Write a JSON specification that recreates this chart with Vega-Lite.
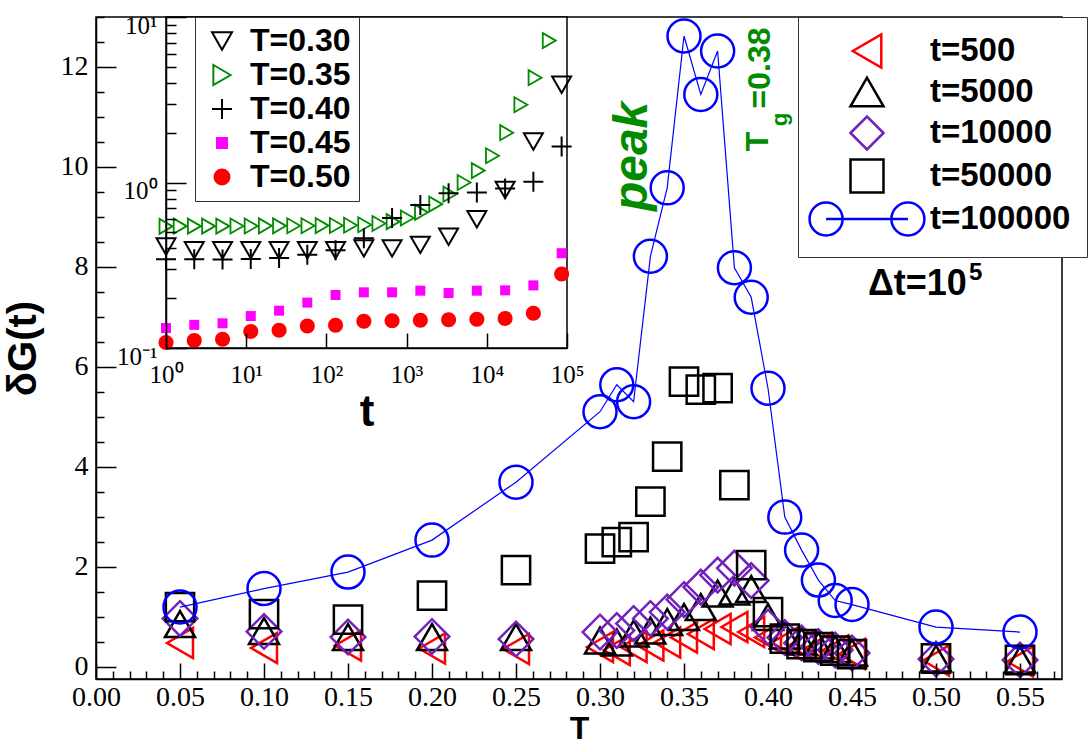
{
  "$schema": "https://vega.github.io/schema/vega-lite/v6.json",
  "width": 966,
  "height": 662,
  "autosize": "none",
  "padding": {"left": 96, "top": 17, "right": 27, "bottom": 73},
  "background": "white",
  "config": {
    "view": {"stroke": "black", "strokeWidth": 1.5},
    "text": {"font": "Liberation Sans"}
  },
  "datasets": {
    "main": [
      {"T": 0.05, "dG": 0.47, "t": "t=500"}, {"T": 0.10, "dG": 0.37, "t": "t=500"}, {"T": 0.15, "dG": 0.42, "t": "t=500"},
      {"T": 0.20, "dG": 0.36, "t": "t=500"}, {"T": 0.25, "dG": 0.35, "t": "t=500"}, {"T": 0.30, "dG": 0.39, "t": "t=500"},
      {"T": 0.31, "dG": 0.33, "t": "t=500"}, {"T": 0.32, "dG": 0.39, "t": "t=500"}, {"T": 0.33, "dG": 0.42, "t": "t=500"},
      {"T": 0.34, "dG": 0.48, "t": "t=500"}, {"T": 0.35, "dG": 0.58, "t": "t=500"}, {"T": 0.36, "dG": 0.65, "t": "t=500"},
      {"T": 0.37, "dG": 0.75, "t": "t=500"}, {"T": 0.38, "dG": 0.79, "t": "t=500"}, {"T": 0.39, "dG": 0.69, "t": "t=500"},
      {"T": 0.40, "dG": 0.58, "t": "t=500"}, {"T": 0.41, "dG": 0.48, "t": "t=500"}, {"T": 0.42, "dG": 0.42, "t": "t=500"},
      {"T": 0.43, "dG": 0.37, "t": "t=500"}, {"T": 0.44, "dG": 0.32, "t": "t=500"}, {"T": 0.45, "dG": 0.25, "t": "t=500"},
      {"T": 0.50, "dG": 0.12, "t": "t=500"}, {"T": 0.55, "dG": 0.10, "t": "t=500"},

      {"T": 0.05, "dG": 0.85, "t": "t=5000"}, {"T": 0.10, "dG": 0.71, "t": "t=5000"}, {"T": 0.15, "dG": 0.59, "t": "t=5000"},
      {"T": 0.20, "dG": 0.59, "t": "t=5000"}, {"T": 0.25, "dG": 0.59, "t": "t=5000"}, {"T": 0.30, "dG": 0.52, "t": "t=5000"},
      {"T": 0.31, "dG": 0.48, "t": "t=5000"}, {"T": 0.32, "dG": 0.66, "t": "t=5000"}, {"T": 0.33, "dG": 0.72, "t": "t=5000"},
      {"T": 0.34, "dG": 0.89, "t": "t=5000"}, {"T": 0.35, "dG": 0.99, "t": "t=5000"}, {"T": 0.36, "dG": 1.19, "t": "t=5000"},
      {"T": 0.37, "dG": 1.46, "t": "t=5000"}, {"T": 0.38, "dG": 1.50, "t": "t=5000"}, {"T": 0.39, "dG": 1.55, "t": "t=5000"},
      {"T": 0.40, "dG": 0.99, "t": "t=5000"}, {"T": 0.41, "dG": 0.62, "t": "t=5000"}, {"T": 0.42, "dG": 0.50, "t": "t=5000"},
      {"T": 0.43, "dG": 0.42, "t": "t=5000"}, {"T": 0.44, "dG": 0.35, "t": "t=5000"}, {"T": 0.45, "dG": 0.28, "t": "t=5000"},
      {"T": 0.50, "dG": 0.16, "t": "t=5000"}, {"T": 0.55, "dG": 0.14, "t": "t=5000"},

      {"T": 0.05, "dG": 0.96, "t": "t=10000"}, {"T": 0.10, "dG": 0.70, "t": "t=10000"}, {"T": 0.15, "dG": 0.59, "t": "t=10000"},
      {"T": 0.20, "dG": 0.60, "t": "t=10000"}, {"T": 0.25, "dG": 0.55, "t": "t=10000"}, {"T": 0.30, "dG": 0.69, "t": "t=10000"},
      {"T": 0.31, "dG": 0.72, "t": "t=10000"}, {"T": 0.32, "dG": 0.86, "t": "t=10000"}, {"T": 0.33, "dG": 0.96, "t": "t=10000"},
      {"T": 0.34, "dG": 1.09, "t": "t=10000"}, {"T": 0.35, "dG": 1.34, "t": "t=10000"}, {"T": 0.36, "dG": 1.59, "t": "t=10000"},
      {"T": 0.37, "dG": 1.83, "t": "t=10000"}, {"T": 0.38, "dG": 1.97, "t": "t=10000"}, {"T": 0.39, "dG": 1.72, "t": "t=10000"},
      {"T": 0.40, "dG": 0.79, "t": "t=10000"}, {"T": 0.41, "dG": 0.58, "t": "t=10000"}, {"T": 0.42, "dG": 0.47, "t": "t=10000"},
      {"T": 0.43, "dG": 0.40, "t": "t=10000"}, {"T": 0.44, "dG": 0.33, "t": "t=10000"}, {"T": 0.45, "dG": 0.27, "t": "t=10000"},
      {"T": 0.50, "dG": 0.15, "t": "t=10000"}, {"T": 0.55, "dG": 0.13, "t": "t=10000"},

      {"T": 0.05, "dG": 1.19, "t": "t=50000"}, {"T": 0.10, "dG": 1.05, "t": "t=50000"}, {"T": 0.15, "dG": 0.94, "t": "t=50000"},
      {"T": 0.20, "dG": 1.42, "t": "t=50000"}, {"T": 0.25, "dG": 1.93, "t": "t=50000"}, {"T": 0.30, "dG": 2.36, "t": "t=50000"},
      {"T": 0.31, "dG": 2.49, "t": "t=50000"}, {"T": 0.32, "dG": 2.59, "t": "t=50000"}, {"T": 0.33, "dG": 3.30, "t": "t=50000"},
      {"T": 0.34, "dG": 4.20, "t": "t=50000"}, {"T": 0.35, "dG": 5.70, "t": "t=50000"}, {"T": 0.36, "dG": 5.54, "t": "t=50000"},
      {"T": 0.37, "dG": 5.57, "t": "t=50000"}, {"T": 0.38, "dG": 3.63, "t": "t=50000"}, {"T": 0.39, "dG": 2.03, "t": "t=50000"},
      {"T": 0.40, "dG": 1.09, "t": "t=50000"}, {"T": 0.41, "dG": 0.56, "t": "t=50000"}, {"T": 0.42, "dG": 0.45, "t": "t=50000"},
      {"T": 0.43, "dG": 0.39, "t": "t=50000"}, {"T": 0.44, "dG": 0.32, "t": "t=50000"}, {"T": 0.45, "dG": 0.25, "t": "t=50000"},
      {"T": 0.50, "dG": 0.16, "t": "t=50000"}, {"T": 0.55, "dG": 0.13, "t": "t=50000"},

      {"T": 0.05, "dG": 1.19, "t": "t=100000"}, {"T": 0.10, "dG": 1.56, "t": "t=100000"}, {"T": 0.15, "dG": 1.89, "t": "t=100000"},
      {"T": 0.20, "dG": 2.53, "t": "t=100000"}, {"T": 0.25, "dG": 3.69, "t": "t=100000"}, {"T": 0.30, "dG": 5.10, "t": "t=100000"},
      {"T": 0.31, "dG": 5.64, "t": "t=100000"}, {"T": 0.32, "dG": 5.30, "t": "t=100000"}, {"T": 0.33, "dG": 8.21, "t": "t=100000"},
      {"T": 0.34, "dG": 9.58, "t": "t=100000"}, {"T": 0.35, "dG": 12.62, "t": "t=100000"}, {"T": 0.36, "dG": 11.45, "t": "t=100000"},
      {"T": 0.37, "dG": 12.32, "t": "t=100000"}, {"T": 0.38, "dG": 7.98, "t": "t=100000"}, {"T": 0.39, "dG": 7.39, "t": "t=100000"},
      {"T": 0.40, "dG": 5.57, "t": "t=100000"}, {"T": 0.41, "dG": 2.99, "t": "t=100000"}, {"T": 0.42, "dG": 2.33, "t": "t=100000"},
      {"T": 0.43, "dG": 1.73, "t": "t=100000"}, {"T": 0.44, "dG": 1.32, "t": "t=100000"}, {"T": 0.45, "dG": 1.24, "t": "t=100000"},
      {"T": 0.50, "dG": 0.79, "t": "t=100000"}, {"T": 0.55, "dG": 0.69, "t": "t=100000"}
    ],
    "inset": [
      {"time": 1, "G": 0.41, "temp": "T=0.30"}, {"time": 2.25, "G": 0.39, "temp": "T=0.30"}, {"time": 5.07, "G": 0.39, "temp": "T=0.30"},
      {"time": 11.4, "G": 0.39, "temp": "T=0.30"}, {"time": 25.7, "G": 0.39, "temp": "T=0.30"}, {"time": 57.8, "G": 0.39, "temp": "T=0.30"},
      {"time": 130, "G": 0.39, "temp": "T=0.30"}, {"time": 293, "G": 0.40, "temp": "T=0.30"}, {"time": 659, "G": 0.40, "temp": "T=0.30"},
      {"time": 1483, "G": 0.42, "temp": "T=0.30"}, {"time": 3339, "G": 0.47, "temp": "T=0.30"}, {"time": 7516, "G": 0.60, "temp": "T=0.30"},
      {"time": 16918, "G": 0.90, "temp": "T=0.30"}, {"time": 38081, "G": 1.77, "temp": "T=0.30"}, {"time": 85720, "G": 3.9, "temp": "T=0.30"},

      {"time": 1, "G": 0.543, "temp": "T=0.35"}, {"time": 1.503, "G": 0.545, "temp": "T=0.35"}, {"time": 2.259, "G": 0.545, "temp": "T=0.35"},
      {"time": 3.396, "G": 0.545, "temp": "T=0.35"}, {"time": 5.105, "G": 0.545, "temp": "T=0.35"}, {"time": 7.674, "G": 0.546, "temp": "T=0.35"},
      {"time": 11.53, "G": 0.546, "temp": "T=0.35"}, {"time": 17.34, "G": 0.547, "temp": "T=0.35"}, {"time": 26.06, "G": 0.547, "temp": "T=0.35"},
      {"time": 39.17, "G": 0.548, "temp": "T=0.35"}, {"time": 58.88, "G": 0.548, "temp": "T=0.35"}, {"time": 88.51, "G": 0.549, "temp": "T=0.35"},
      {"time": 133, "G": 0.55, "temp": "T=0.35"}, {"time": 199.9, "G": 0.552, "temp": "T=0.35"}, {"time": 300.6, "G": 0.556, "temp": "T=0.35"},
      {"time": 451.9, "G": 0.565, "temp": "T=0.35"}, {"time": 679.2, "G": 0.58, "temp": "T=0.35"}, {"time": 1021, "G": 0.61, "temp": "T=0.35"},
      {"time": 1535, "G": 0.66, "temp": "T=0.35"}, {"time": 2307, "G": 0.74, "temp": "T=0.35"}, {"time": 3467, "G": 0.85, "temp": "T=0.35"},
      {"time": 5212, "G": 1.0, "temp": "T=0.35"}, {"time": 7834, "G": 1.18, "temp": "T=0.35"}, {"time": 11776, "G": 1.45, "temp": "T=0.35"},
      {"time": 17701, "G": 2.0, "temp": "T=0.35"}, {"time": 26607, "G": 2.95, "temp": "T=0.35"}, {"time": 39994, "G": 4.3, "temp": "T=0.35"},
      {"time": 60117, "G": 7.2, "temp": "T=0.35"},

      {"time": 1, "G": 0.344, "temp": "T=0.40"}, {"time": 2.25, "G": 0.344, "temp": "T=0.40"}, {"time": 5.07, "G": 0.342, "temp": "T=0.40"},
      {"time": 11.4, "G": 0.345, "temp": "T=0.40"}, {"time": 25.7, "G": 0.35, "temp": "T=0.40"}, {"time": 57.8, "G": 0.366, "temp": "T=0.40"},
      {"time": 130, "G": 0.39, "temp": "T=0.40"}, {"time": 293, "G": 0.46, "temp": "T=0.40"}, {"time": 659, "G": 0.61, "temp": "T=0.40"},
      {"time": 1483, "G": 0.73, "temp": "T=0.40"}, {"time": 3339, "G": 0.86, "temp": "T=0.40"}, {"time": 7516, "G": 0.87, "temp": "T=0.40"},
      {"time": 16918, "G": 0.92, "temp": "T=0.40"}, {"time": 38081, "G": 1.01, "temp": "T=0.40"}, {"time": 85720, "G": 1.65, "temp": "T=0.40"},

      {"time": 1, "G": 0.132, "temp": "T=0.45"}, {"time": 2.25, "G": 0.138, "temp": "T=0.45"}, {"time": 5.07, "G": 0.141, "temp": "T=0.45"},
      {"time": 11.4, "G": 0.156, "temp": "T=0.45"}, {"time": 25.7, "G": 0.168, "temp": "T=0.45"}, {"time": 57.8, "G": 0.188, "temp": "T=0.45"},
      {"time": 130, "G": 0.209, "temp": "T=0.45"}, {"time": 293, "G": 0.217, "temp": "T=0.45"}, {"time": 659, "G": 0.217, "temp": "T=0.45"},
      {"time": 1483, "G": 0.222, "temp": "T=0.45"}, {"time": 3339, "G": 0.215, "temp": "T=0.45"}, {"time": 7516, "G": 0.222, "temp": "T=0.45"},
      {"time": 16918, "G": 0.223, "temp": "T=0.45"}, {"time": 38081, "G": 0.239, "temp": "T=0.45"}, {"time": 85720, "G": 0.374, "temp": "T=0.45"},

      {"time": 1, "G": 0.108, "temp": "T=0.50"}, {"time": 2.25, "G": 0.111, "temp": "T=0.50"}, {"time": 5.07, "G": 0.113, "temp": "T=0.50"},
      {"time": 11.4, "G": 0.126, "temp": "T=0.50"}, {"time": 25.7, "G": 0.128, "temp": "T=0.50"}, {"time": 57.8, "G": 0.136, "temp": "T=0.50"},
      {"time": 130, "G": 0.137, "temp": "T=0.50"}, {"time": 293, "G": 0.145, "temp": "T=0.50"}, {"time": 659, "G": 0.146, "temp": "T=0.50"},
      {"time": 1483, "G": 0.147, "temp": "T=0.50"}, {"time": 3339, "G": 0.148, "temp": "T=0.50"}, {"time": 7516, "G": 0.149, "temp": "T=0.50"},
      {"time": 16918, "G": 0.151, "temp": "T=0.50"}, {"time": 38081, "G": 0.162, "temp": "T=0.50"}, {"time": 85720, "G": 0.28, "temp": "T=0.50"}
    ]
  },
  "layer": [
    {
      "encoding": {
        "x": {
          "field": "T", "type": "quantitative",
          "scale": {"domain": [0, 0.575], "nice": false, "zero": false},
          "axis": {
            "orient": "bottom", "zindex": 1, "grid": false,
            "values": [0, 0.01, 0.02, 0.03, 0.04, 0.05, 0.06, 0.07, 0.08, 0.09, 0.1, 0.11, 0.12, 0.13, 0.14, 0.15, 0.16, 0.17, 0.18, 0.19, 0.2, 0.21, 0.22, 0.23, 0.24, 0.25, 0.26, 0.27, 0.28, 0.29, 0.3, 0.31, 0.32, 0.33, 0.34, 0.35, 0.36, 0.37, 0.38, 0.39, 0.4, 0.41, 0.42, 0.43, 0.44, 0.45, 0.46, 0.47, 0.48, 0.49, 0.5, 0.51, 0.52, 0.53, 0.54, 0.55, 0.56, 0.57],
            "labelExpr": "abs(datum.value*20-round(datum.value*20))<0.001 ? format(datum.value,'.2f') : ''",
            "tickSize": {"expr": "abs(datum.value*20-round(datum.value*20))<0.001 ? -16 : -8"},
            "labelPadding": 20,
            "labelFont": "Liberation Serif", "labelFontSize": 28, "labelColor": "black",
            "labelOverlap": false, "labelFlush": false, "labelBound": false,
            "domainColor": "black", "domainWidth": 1.5, "tickColor": "black", "tickWidth": 1.5,
            "title": "T", "titleFont": "Liberation Sans", "titleFontSize": 32, "titleFontWeight": "bold", "titleColor": "black",
            "titleBaseline": "alphabetic", "titleY": 59
          }
        },
        "y": {
          "field": "dG", "type": "quantitative",
          "scale": {"domain": [-0.25, 13], "nice": false, "zero": false},
          "axis": {
            "orient": "left", "zindex": 1, "grid": false,
            "values": [0, 0.5, 1, 1.5, 2, 2.5, 3, 3.5, 4, 4.5, 5, 5.5, 6, 6.5, 7, 7.5, 8, 8.5, 9, 9.5, 10, 10.5, 11, 11.5, 12, 12.5, 13],
            "labelExpr": "abs(datum.value/2-round(datum.value/2))<0.001 ? format(datum.value,'d') : ''",
            "tickSize": {"expr": "abs(datum.value/2-round(datum.value/2))<0.001 ? -20 : -8"},
            "labelPadding": 28,
            "labelFont": "Liberation Serif", "labelFontSize": 28, "labelColor": "black",
            "labelOverlap": false, "labelFlush": false, "labelBound": false,
            "domainColor": "black", "domainWidth": 1.5, "tickColor": "black", "tickWidth": 1.5,
            "title": "δG(t)", "titleFont": "Liberation Sans", "titleFontSize": 40, "titleFontWeight": "bold", "titleColor": "black",
            "titleAngle": 270, "titleAlign": "center", "titleBaseline": "middle", "titleX": -73, "titleY": 331
          }
        }
      },
      "layer": [
        {
          "data": {"name": "main"},
          "encoding": {
            "shape": {
              "field": "t", "type": "nominal",
              "scale": {
                "domain": ["t=500", "t=5000", "t=10000", "t=50000", "t=100000"],
                "range": ["triangle-left", "triangle-up", "diamond", "square", "M-3.48,0A1,1,0,1,1,-1.48,0A1,1,0,1,1,-3.48,0M1.48,0A1,1,0,1,1,3.48,0A1,1,0,1,1,1.48,0M-2.48,0L2.48,0"]
              },
              "legend": {
                "orient": "none", "legendX": 702, "legendY": 0, "title": null,
                "labelFont": "Liberation Sans", "labelFontSize": 33, "labelFontWeight": "bold", "labelColor": "black",
                "symbolSize": 1089, "symbolStrokeWidth": 2.5, "symbolOpacity": 1,
                "strokeColor": "#333333", "fillColor": "white", "padding": 16, "rowPadding": -1,
                "symbolOffset": 35, "labelOffset": 45
              }
            },
            "stroke": {
              "field": "t", "type": "nominal",
              "scale": {
                "domain": ["t=500", "t=5000", "t=10000", "t=50000", "t=100000"],
                "range": ["#ff0000", "#000000", "#7221bc", "#000000", "#0000ff"]
              },
              "legend": {
                "orient": "none", "legendX": 702, "legendY": 0, "title": null,
                "labelFont": "Liberation Sans", "labelFontSize": 33, "labelFontWeight": "bold", "labelColor": "black",
                "symbolSize": 1089, "symbolStrokeWidth": 2.5, "symbolOpacity": 1,
                "strokeColor": "#333333", "fillColor": "white", "padding": 16, "rowPadding": -1,
                "symbolOffset": 35, "labelOffset": 45
              }
            }
          },
          "layer": [
            {"transform": [{"filter": "datum.t === 't=500'"}], "mark": {"type": "point", "filled": false, "opacity": 1, "size": 900, "strokeWidth": 2.5}},
            {"transform": [{"filter": "datum.t === 't=5000'"}], "mark": {"type": "point", "filled": false, "opacity": 1, "size": 900, "strokeWidth": 2.5}},
            {"transform": [{"filter": "datum.t === 't=10000'"}], "mark": {"type": "point", "filled": false, "opacity": 1, "size": 1200, "strokeWidth": 2.5}},
            {"transform": [{"filter": "datum.t === 't=50000'"}], "mark": {"type": "point", "filled": false, "opacity": 1, "size": 800, "strokeWidth": 2.5}}
          ]
        },
        {
          "data": {"values": [{"T": 0.38}]},
          "mark": {"type": "rule", "color": "#008b00", "strokeWidth": 5, "strokeDash": [29, 21], "strokeDashOffset": 17},
          "encoding": {"y": {"datum": -0.25}, "y2": {"datum": 13}}
        },
        {
          "data": {"name": "main"},
          "transform": [{"filter": "datum.t === 't=100000'"}],
          "mark": {"type": "line", "color": "#0000ff", "strokeWidth": 1.2}
        },
        {
          "data": {"name": "main"},
          "transform": [{"filter": "datum.t === 't=100000'"}],
          "mark": {"type": "point", "shape": "circle", "filled": false, "opacity": 1, "size": 1089, "strokeWidth": 2.5, "color": "#0000ff"}
        },
        {
          "data": {"values": [{"T": 0.3196, "dG": 10.21, "label": "peak"}]},
          "mark": {"type": "text", "angle": 270, "font": "Liberation Sans", "fontSize": 48, "fontWeight": "bold", "fontStyle": "italic", "color": "#008b00", "align": "center", "baseline": "middle"},
          "encoding": {"text": {"field": "label"}}
        },
        {
          "data": {"values": [{"T": 0.394, "dG": 10.51, "label": "T"}, {"T": 0.395, "dG": 11.98, "label": "=0.38"}]},
          "mark": {"type": "text", "angle": 270, "font": "Liberation Sans", "fontSize": 32, "fontWeight": "bold", "color": "#008b00", "align": "center", "baseline": "middle"},
          "encoding": {"text": {"field": "label"}}
        },
        {
          "data": {"values": [{"T": 0.4071, "dG": 10.95, "label": "g"}]},
          "mark": {"type": "text", "angle": 270, "font": "Liberation Sans", "fontSize": 22, "fontWeight": "bold", "color": "#008b00", "align": "center", "baseline": "middle"},
          "encoding": {"text": {"field": "label"}}
        },
        {
          "data": {"values": [{"T": 0.4595, "dG": 7.44, "label": "Δt=10"}]},
          "mark": {"type": "text", "font": "Liberation Sans", "fontSize": 36, "fontWeight": "bold", "color": "black", "align": "left", "baseline": "alphabetic"},
          "encoding": {"text": {"field": "label"}}
        },
        {
          "data": {"values": [{"T": 0.5196, "dG": 7.74, "label": "5"}]},
          "mark": {"type": "text", "font": "Liberation Sans", "fontSize": 24, "fontWeight": "bold", "color": "black", "align": "left", "baseline": "alphabetic"},
          "encoding": {"text": {"field": "label"}}
        }
      ]
    },
    {
      "encoding": {
        "x": {
          "field": "time", "type": "quantitative",
          "scale": {"type": "log", "domain": [1, 100000], "range": [70, 471], "nice": false},
          "axis": {
            "orient": "bottom", "offset": -331, "zindex": 1, "grid": false,
            "values": [1, 10, 100, 1000, 10000, 100000],
            "labelExpr": "['10⁻¹','10⁰','10¹','10²','10³','10⁴','10⁵'][round(log(datum.value)/LN10)+1]",
            "tickSize": -15, "labelPadding": 29,
            "labelFont": "Liberation Serif", "labelFontSize": 25, "labelColor": "black",
            "labelOverlap": false, "labelFlush": false, "labelBound": false,
            "domainColor": "black", "domainWidth": 1.5, "tickColor": "black", "tickWidth": 1.5,
            "title": "t", "titleFont": "Liberation Sans", "titleFontSize": 44, "titleFontWeight": "bold", "titleColor": "black",
            "titleBaseline": "middle", "titleY": 64
          }
        },
        "y": {
          "field": "G", "type": "quantitative",
          "scale": {"type": "log", "domain": [0.1, 10], "range": [331, 0], "nice": false},
          "axis": {
            "orient": "left", "offset": -70, "zindex": 1, "grid": false,
            "values": [0.1, 0.2, 0.3, 0.4, 0.5, 0.6, 0.7, 0.8, 0.9, 1, 2, 3, 4, 5, 6, 7, 8, 9, 10],
            "labelExpr": "abs(log(datum.value)/LN10-round(log(datum.value)/LN10))<0.001 ? ['10⁻¹','10⁰','10¹'][round(log(datum.value)/LN10)+1] : ''",
            "tickSize": {"expr": "abs(log(datum.value)/LN10-round(log(datum.value)/LN10))<0.001 ? -20 : -10"},
            "labelPadding": 29, "labelOffset": 8,
            "labelFont": "Liberation Serif", "labelFontSize": 25, "labelColor": "black",
            "labelOverlap": false, "labelFlush": false, "labelBound": false,
            "domainColor": "black", "domainWidth": 1.5, "tickColor": "black", "tickWidth": 1.5,
            "title": null
          }
        }
      },
      "layer": [
        {
          "data": {"values": [{"time": 1, "time2": 100000, "G": 0.1, "G2": 10}]},
          "mark": {"type": "rect", "fill": "white", "stroke": "black", "strokeWidth": 1.5},
          "encoding": {"x2": {"field": "time2"}, "y2": {"field": "G2"}}
        },
        {
          "data": {"name": "inset"},
          "encoding": {
            "shape": {
              "field": "temp", "type": "nominal",
              "scale": {
                "domain": ["T=0.30", "T=0.35", "T=0.40", "T=0.45", "T=0.50"],
                "range": ["triangle-down", "triangle-right", "M-1,0L1,0M0,-1L0,1", "M-0.5,-0.5L0.5,-0.5L0.5,0.5L-0.5,0.5Z", "M-0.75,0A0.75,0.75,0,1,1,0.75,0A0.75,0.75,0,1,1,-0.75,0Z"]
              },
              "legend": {
                "orient": "none", "legendX": 99, "legendY": 0, "title": null,
                "labelFont": "Liberation Sans", "labelFontSize": 32, "labelFontWeight": "bold", "labelColor": "black",
                "symbolSize": 400, "symbolStrokeWidth": 2, "symbolOpacity": 1,
                "strokeColor": "#333333", "fillColor": "white", "padding": 8, "rowPadding": 2,
                "symbolOffset": 3, "labelOffset": 12
              }
            },
            "stroke": {
              "field": "temp", "type": "nominal",
              "scale": {
                "domain": ["T=0.30", "T=0.35", "T=0.40", "T=0.45", "T=0.50"],
                "range": ["#000000", "#008b00", "#000000", "#ff00ff", "#ff0000"]
              },
              "legend": {
                "orient": "none", "legendX": 99, "legendY": 0, "title": null,
                "labelFont": "Liberation Sans", "labelFontSize": 32, "labelFontWeight": "bold", "labelColor": "black",
                "symbolSize": 400, "symbolStrokeWidth": 2, "symbolOpacity": 1,
                "strokeColor": "#333333", "fillColor": "white", "padding": 8, "rowPadding": 2,
                "symbolOffset": 3, "labelOffset": 12
              }
            },
            "fill": {
              "field": "temp", "type": "nominal",
              "scale": {
                "domain": ["T=0.30", "T=0.35", "T=0.40", "T=0.45", "T=0.50"],
                "range": ["transparent", "transparent", "transparent", "#ff00ff", "#ff0000"]
              },
              "legend": {
                "orient": "none", "legendX": 99, "legendY": 0, "title": null,
                "labelFont": "Liberation Sans", "labelFontSize": 32, "labelFontWeight": "bold", "labelColor": "black",
                "symbolSize": 400, "symbolStrokeWidth": 2, "symbolOpacity": 1,
                "strokeColor": "#333333", "fillColor": "white", "padding": 8, "rowPadding": 2,
                "symbolOffset": 3, "labelOffset": 12
              }
            }
          },
          "layer": [
            {"transform": [{"filter": "datum.temp === 'T=0.30'"}], "mark": {"type": "point", "opacity": 1, "size": 360, "strokeWidth": 2}},
            {"transform": [{"filter": "datum.temp === 'T=0.35'"}], "mark": {"type": "point", "opacity": 1, "size": 225, "strokeWidth": 1.8}},
            {"transform": [{"filter": "datum.temp === 'T=0.40'"}], "mark": {"type": "point", "opacity": 1, "size": 400, "strokeWidth": 2}},
            {"transform": [{"filter": "datum.temp === 'T=0.45'"}], "mark": {"type": "point", "opacity": 1, "size": 400, "strokeWidth": 0}},
            {"transform": [{"filter": "datum.temp === 'T=0.50'"}], "mark": {"type": "point", "opacity": 1, "size": 400, "strokeWidth": 0}}
          ]
        }
      ]
    }
  ],
  "resolve": {
    "scale": {"x": "independent", "y": "independent", "shape": "independent", "stroke": "independent", "fill": "independent"},
    "axis": {"x": "independent", "y": "independent"},
    "legend": {"shape": "independent", "stroke": "independent", "fill": "independent"}
  }
}
